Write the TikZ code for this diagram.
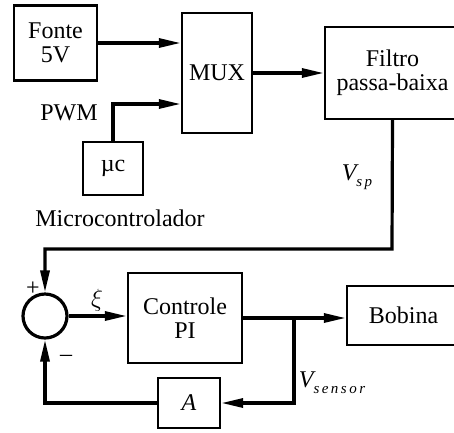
\documentclass[tikz,border=0pt]{standalone}
\usepackage{fontspec}
\setmainfont{Liberation Serif}
\usetikzlibrary{arrows.meta}
\begin{document}
\begin{tikzpicture}[x=1pt,y=-1pt,
  box/.style={draw,line width=2.4pt,rectangle,inner sep=0pt,align=center,font=\fontsize{24}{24}\selectfont},
  conn/.style={line width=3.2pt},
  arr/.style={conn,-{Triangle[length=22pt,width=9pt]}},
  lbl/.style={font=\fontsize{24}{24}\selectfont,inner sep=0pt}]
\clip (0,0) rectangle (454,432);
\fill[white] (0,0) rectangle (454,432);
\node[box,minimum width=83,minimum height=75] (fonte) at (55.5,43) {Fonte\\5V};
\node[box,minimum width=70,minimum height=120] (mux) at (217,73) {MUX};
\node[box,minimum width=135,minimum height=92] (filtro) at (392.5,73) {Filtro\\passa-baixa};
\node[box,minimum width=60,minimum height=53] (uc) at (113,168.5) {\textmu c};
\node[draw,line width=3.2pt,circle,minimum size=44,inner sep=0pt] (sum) at (45,316) {};
\node[box,minimum width=114,minimum height=90] (pi) at (185,318) {Controle\\PI};
\node[box,minimum width=113,minimum height=59] (bob) at (403.5,315.5) {Bobina};
\node[box,minimum width=62,minimum height=50] (a) at (189,403) {\itshape A};
\coordinate (pwmc) at (113,104);
\coordinate (vspc) at (392,249);
\coordinate (br) at (294,318);
\coordinate (brd) at (294,403);
\coordinate (fbl) at (45,403);
\draw[arr] (fonte.east) -- (fonte.east -| mux.west);
\draw[arr] (uc.north) -- (pwmc) -- (pwmc -| mux.west);
\draw[arr] (mux.east) -- (filtro.west);
\draw[arr] (filtro.south) -- (vspc) -- (vspc -| sum.north) -- (sum.north);
\draw[arr] (sum.east) -- (sum.east -| pi.west);
\draw[arr] (pi.east) -- (pi.east -| bob.west);
\draw[arr] (br) -- (brd) -- (a.east);
\draw[arr] (a.west) -- (fbl) -- (sum.south);
\node[lbl] (pwm) at (69,113) {PWM};
\node[lbl] (micro) at (120,218) {Microcontrolador};
\node[lbl] (vsp) at (357,177) {\itshape V\raisebox{-6pt}{\fontsize{15}{15}\selectfont s\,p}};
\node[lbl] (xi) at (97,300) {$\xi$};
\node[lbl] (plus) at (33,289) {+};
\node[lbl] (minus) at (66,358) {\textendash};
\node[lbl] (vsen) at (332,383) {\itshape V\raisebox{-6pt}{\fontsize{15}{15}\selectfont s\,e\,n\,s\,o\,r}};
\end{tikzpicture}
\end{document}
